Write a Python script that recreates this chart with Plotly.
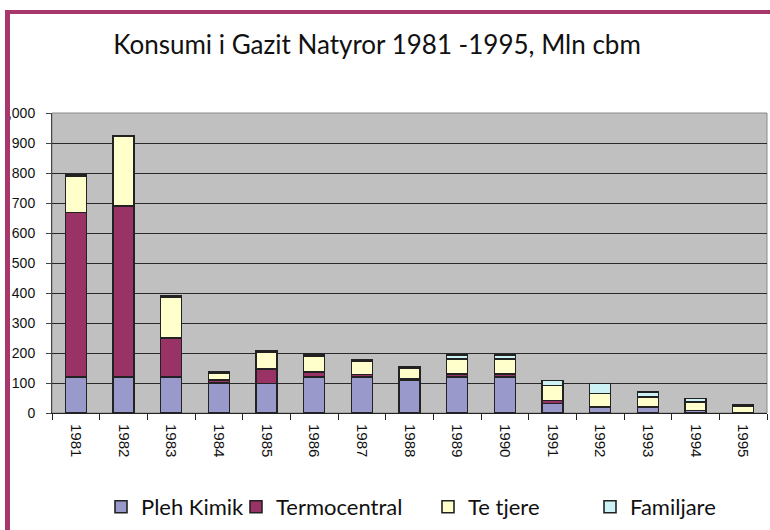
import plotly.graph_objects as go

years = ["1981", "1982", "1983", "1984", "1985", "1986", "1987", "1988",
         "1989", "1990", "1991", "1992", "1993", "1994", "1995"]
pleh_kimik   = [120, 120, 120, 100, 98, 120, 120, 110, 120, 120, 32, 20, 20, 8, 0]
termocentral = [548, 570, 130, 10, 49, 17, 9, 3, 11, 11, 10, 0, 0, 0, 0]
te_tjere     = [122, 234, 135, 22, 55, 54, 44, 37, 50, 50, 50, 45, 34, 29, 22]
familjare    = [5, 0, 5, 5, 5, 5, 5, 5, 13, 13, 17, 34, 16, 11, 5]

series_names = ["Pleh Kimik", "Termocentral", "Te tjere", "Familjare"]
series_vals = [pleh_kimik, termocentral, te_tjere, familjare]
colors = ["#9999CC", "#993366", "#FFFFCC", "#CCF2F6"]

ytick_vals = [0, 100, 200, 300, 400, 500, 600, 700, 800, 900, 1000]
ytick_text = ["0", "100", "200", "300", "400", "500", "600", "700", "800", "900", "1,000"]

W, H = 770, 530
L, R, T, B = 52, 767, 113, 413

fig = go.Figure()
legend_keys = ["legend", "legend2", "legend3", "legend4"]
for name, vals, col, lg in zip(series_names, series_vals, colors, legend_keys):
    fig.add_trace(go.Bar(
        x=years, y=vals, name=name, legend=lg,
        marker=dict(color=col, line=dict(color="#222222", width=1.6)),
    ))

# legend positions (text starts), container px
leg_px = [143, 278, 470, 632]
leg_common = dict(orientation="h", xref="container", yref="container",
                  yanchor="middle", xanchor="left", bgcolor="rgba(0,0,0,0)",
                  font=dict(family="Lato", size=22, color="#111111"))
legends = {}
for lg, px in zip(legend_keys, leg_px):
    legends[lg] = dict(leg_common, x=(px - 42) / W, y=1 - 507 / H)

def xp(px):
    return (px - L) / (R - L)

def yp(py):
    return (B - py) / (B - T)

shapes = [
    # plot border
    dict(type="rect", xref="paper", yref="paper", x0=0, x1=1, y0=0, y1=1,
         line=dict(color="#8a8a8a", width=1), layer="below"),
    # white mask left of frame
    dict(type="rect", xref="paper", yref="paper", x0=xp(-2), x1=xp(5), y0=yp(540), y1=yp(10),
         fillcolor="white", line=dict(width=0), layer="above"),
    # magenta frame: left
    dict(type="rect", xref="paper", yref="paper", x0=xp(5), x1=xp(10), y0=yp(540), y1=yp(10),
         fillcolor="#A8386B", line=dict(width=0), layer="above"),
    # magenta frame: top
    dict(type="rect", xref="paper", yref="paper", x0=xp(5), x1=xp(775), y0=yp(14), y1=yp(10),
         fillcolor="#A8386B", line=dict(width=0), layer="above"),
]

fig.update_layout(
    width=W, height=H,
    margin=dict(l=L, r=W - R, t=T, b=H - B, autoexpand=False),
    paper_bgcolor="white",
    plot_bgcolor="#C0C0C0",
    barmode="stack",
    bargap=0.56,
    title=dict(text="Konsumi i Gazit Natyror 1981 -1995, Mln cbm",
               x=377 / W, xanchor="center", xref="container",
               y=1 - 45 / H, yanchor="middle", yref="container",
               font=dict(family="Lato", size=26, color="#111111")),
    xaxis=dict(
        type="category", tickangle=90,
        showline=True, linecolor="#222222", linewidth=1,
        ticks="outside", tickson="boundaries", ticklen=6, tickcolor="#222222",
        tickfont=dict(family="Liberation Sans", size=15, color="#111111"),
        ticklabelstandoff=7,
        showgrid=False,
    ),
    yaxis=dict(
        range=[0, 1000], tickvals=ytick_vals, ticktext=ytick_text,
        showline=True, linecolor="#444444", linewidth=1,
        ticks="outside", ticklen=5, tickcolor="#444444",
        tickfont=dict(family="Liberation Sans", size=14, color="#111111"),
        ticklabelstandoff=8,
        showgrid=True, gridcolor="#2a2a2a", gridwidth=1,
        zeroline=False,
    ),
    shapes=shapes,
    showlegend=True,
    **legends,
)

fig.write_html("out.html",
               config={"displayModeBar": False},
               post_script="document.body.style.margin='0';document.body.style.padding='0';")
